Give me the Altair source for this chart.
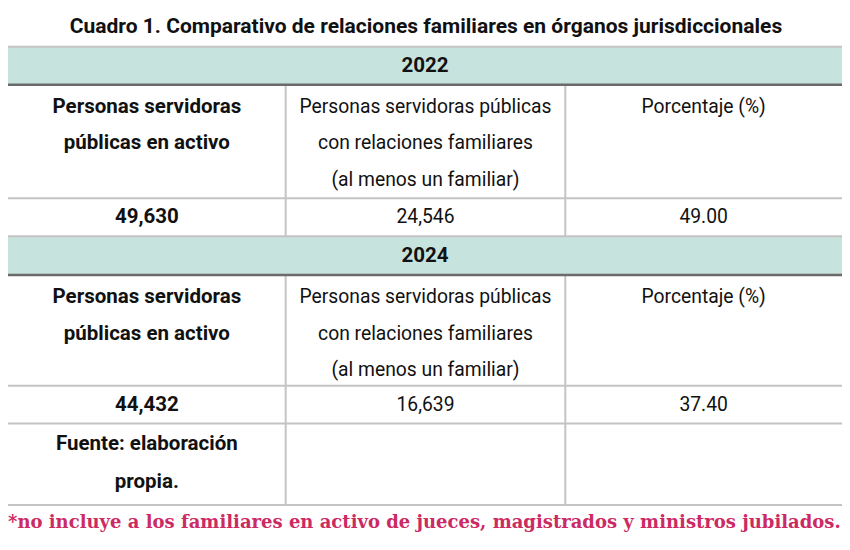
import altair as alt
import pandas as pd

# ---- content ----
title = "Cuadro 1. Comparativo de relaciones familiares en órganos jurisdiccionales"
years = ["2022", "2024"]
header_col1 = ["Personas servidoras", "públicas en activo"]
header_col2 = ["Personas servidoras públicas", "con relaciones familiares", "(al menos un familiar)"]
header_col3 = ["Porcentaje (%)"]
servidores = ["49,630", "44,432"]
con_familiares = ["24,546", "16,639"]
porcentaje = ["49.00", "37.40"]
fuente = ["Fuente: elaboración", "propia."]
nota = "*no incluye a los familiares en activo de jueces, magistrados y ministros jubilados."

# ---- layout (reference pixel grid 850 x 550) ----
W, H = 850, 550
col_edges = [0, 283, 568, 850]
col_centers = [(col_edges[i] + col_edges[i + 1]) / 2 for i in range(3)]
line_h = 37.5
blocks = [
    {"band": (40, 79), "header": (79, 196), "values": (196, 235)},
    {"band": (235, 275), "header": (275, 389), "values": (389, 428)},
]
fuente_row = (428, 512)

FONT = "Roboto"
SERIF = "DejaVu Serif"

texts = []
bands = []
hlines = []
vlines = []
for i, blk in enumerate(blocks):
    b0, b1 = blk["band"]
    bands.append({"x": 0, "x2": W, "y": b0, "y2": b1})
    texts.append({"t": years[i], "x": W / 2, "y": (b0 + b1) / 2, "w": "bold"})
    h0, h1 = blk["header"]
    for col, lines, wt in [(0, header_col1, "bold"), (1, header_col2, "normal"), (2, header_col3, "normal")]:
        for k, s in enumerate(lines):
            texts.append({"t": s, "x": col_centers[col], "y": h0 + 23 + k * line_h, "w": wt})
    v0, v1 = blk["values"]
    vy = (v0 + v1) / 2
    texts.append({"t": servidores[i], "x": col_centers[0], "y": vy, "w": "bold"})
    texts.append({"t": con_familiares[i], "x": col_centers[1], "y": vy, "w": "normal"})
    texts.append({"t": porcentaje[i], "x": col_centers[2], "y": vy, "w": "normal"})
    hlines.append({"x": 0, "x2": W, "y": b0, "c": "light"})
    hlines.append({"x": 0, "x2": W, "y": b1, "c": "dark"})
    hlines.append({"x": 0, "x2": W, "y": v0, "c": "light"})
    end = v1 if i == 0 else fuente_row[1]
    for xe in col_edges[1:3]:
        vlines.append({"x": xe, "y": h0, "y2": end})
hlines.append({"x": 0, "x2": W, "y": blocks[1]["values"][1], "c": "light"})
hlines.append({"x": 0, "x2": W, "y": fuente_row[1], "c": "light"})
f0, f1 = fuente_row
for k, s in enumerate(fuente):
    texts.append({"t": s, "x": col_centers[0], "y": f0 + 21 + k * 39, "w": "bold"})

df_text = pd.DataFrame(texts)
df_bands = pd.DataFrame(bands)
df_h = pd.DataFrame(hlines)
df_v = pd.DataFrame(vlines)
df_title = pd.DataFrame([{"t": title, "x": 426, "y": 20}])
df_note = pd.DataFrame([{"t": nota, "x": 0, "y": 530}])

xs = alt.Scale(domain=[0, W], nice=False, zero=False)
ys = alt.Scale(domain=[0, H], nice=False, zero=False, reverse=True)
X = lambda f: alt.X(f, type="quantitative", scale=xs, axis=None)
Y = lambda f: alt.Y(f, type="quantitative", scale=ys, axis=None)

band_layer = alt.Chart(df_bands).mark_rect(color="#c7e3dd").encode(
    x=X("x"), x2="x2", y=Y("y"), y2="y2")
h_light = alt.Chart(df_h[df_h.c == "light"]).mark_rule(color="#c4c4c4", strokeWidth=2).encode(
    x=X("x"), x2="x2", y=Y("y"))
h_dark = alt.Chart(df_h[df_h.c == "dark"]).mark_rule(color="#6a6a6a", strokeWidth=2.5).encode(
    x=X("x"), x2="x2", y=Y("y"))
v_layer = alt.Chart(df_v).mark_rule(color="#c4c4c4", strokeWidth=2).encode(
    x=X("x"), y=Y("y"), y2="y2")
txt_bold = alt.Chart(df_text[df_text.w == "bold"]).mark_text(
    font=FONT, fontSize=20.5, fontWeight="bold", color="#111111", baseline="middle", align="center"
).encode(x=X("x"), y=Y("y"), text="t:N")
txt_norm = alt.Chart(df_text[df_text.w == "normal"]).mark_text(
    font=FONT, fontSize=19.3, fontWeight="normal", color="#111111", baseline="middle", align="center"
).encode(x=X("x"), y=Y("y"), text="t:N")
title_layer = alt.Chart(df_title).mark_text(
    font=FONT, fontSize=21, fontWeight="bold", color="#111111", baseline="middle", align="center"
).encode(x=X("x"), y=Y("y"), text="t:N")
note_layer = alt.Chart(df_note).mark_text(
    font=SERIF, fontSize=18, fontWeight="bold", color="#cc2a63", baseline="middle", align="left"
).encode(x=X("x"), y=Y("y"), text="t:N")

chart = alt.layer(
    band_layer, h_light, v_layer, h_dark, txt_bold, txt_norm, title_layer, note_layer
).properties(
    width=834, height=534, padding=0, autosize=alt.AutoSizeParams(type="none"),
    background="white"
).configure_view(stroke=None)

chart.save("out.html", embed_options={"renderer": "svg", "actions": False})
